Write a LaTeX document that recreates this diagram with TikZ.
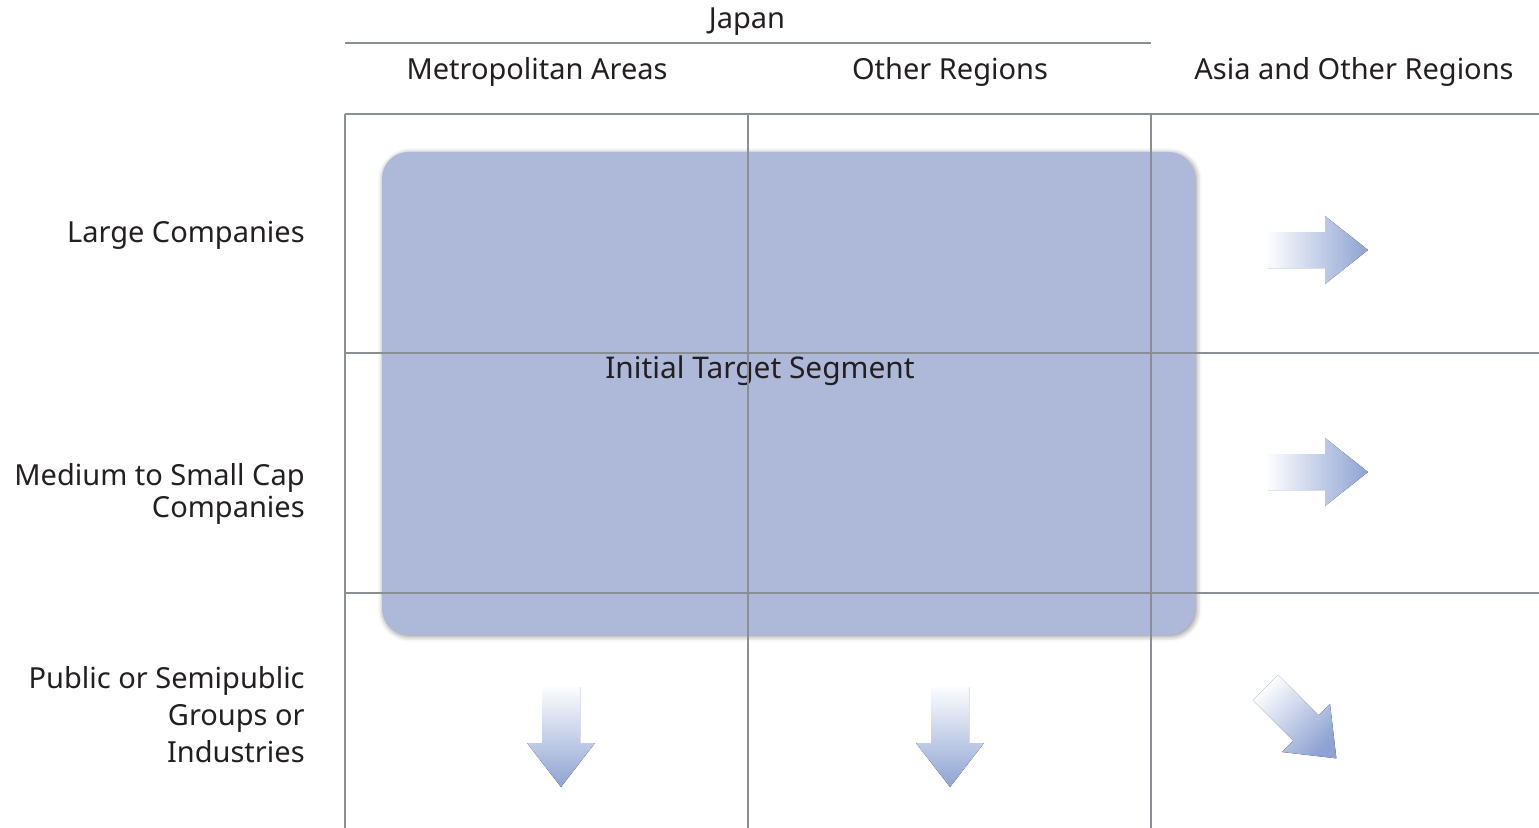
\documentclass[tikz,border=0pt]{standalone}
\usepackage{fontspec}
\setmainfont{Noto Sans}
\usetikzlibrary{shadows.blur}
\definecolor{gridgray}{HTML}{8A8F96}
\definecolor{segblue}{HTML}{AEB9DA}
\definecolor{arrowblue}{HTML}{8EA3D3}
\definecolor{textdark}{HTML}{231F20}
\tikzset{
  gridline/.style={gridgray, line width=0.6pt},
  label/.style={text=textdark, font=\fontsize{16.5}{18.5}\selectfont, inner sep=0pt},
  rowlabel/.style={label, anchor=east, align=right},
  arrowfill/.style={draw=none, left color=white!97!arrowblue, right color=arrowblue},
  downfill/.style={draw=none, top color=white!97!arrowblue, bottom color=arrowblue}
}
\newcommand{\rightarrowshape}{(-50,-18) -- (7,-18) -- (7,-34) -- (50,0) -- (7,34) -- (7,18) -- (-50,18) -- cycle}
\begin{document}
\begin{tikzpicture}[x=0.02cm, y=-0.02cm]
            \useasboundingbox (0,0) rectangle (1539,828);

            % Segment block
            \fill[segblue, rounded corners=15, blur shadow={shadow xshift=0.8pt, shadow yshift=-0.8pt, shadow blur radius=3pt, shadow opacity=45}] (382,152) rectangle (1195,635);
            \node[label, font=\fontsize{17}{19}\selectfont] (segment) at (760,371) {Initial Target Segment};

            % Grid
            \draw[gridline] (345,43) -- (1151,43);
            \draw[gridline] (345,114) -- (1539,114);
            \draw[gridline] (345,353) -- (1539,353);
            \draw[gridline] (345,593) -- (1539,593);
            \foreach \x in {345,748,1151}
                \draw[gridline] (\x,114) -- (\x,828);

            % Column heads
            \node[label] (japan) at (747,22) {Japan};
            \node[label] (metro) at (537,72) {Metropolitan Areas};
            \node[label] (other) at (950,72) {Other Regions};
            \node[label] (asia) at (1354,72) {Asia and Other Regions};

            % Row heads
            \node[rowlabel] (large) at (305,235) {Large Companies};
            \node[rowlabel] (medium) at (305,494) {Medium to Small Cap\\Companies};
            \node[rowlabel, font=\fontsize{16.5}{21}\selectfont] (public) at (305,715) {Public or Semipublic\\Groups or\\Industries};

            % Arrows
            \foreach \y in {250,472}
                \fill[arrowfill, shift={(1318,\y)}] \rightarrowshape;
            \foreach \x in {561,950}
                \fill[downfill] (\x-19,687) -- (\x+19,687) -- (\x+19,743) -- (\x+34,743) -- (\x,787) -- (\x-34,743) -- (\x-19,743) -- cycle;
            \fill[draw=none, top color=white!97!arrowblue, bottom color=arrowblue, shading angle=45, shift={(1301,723)}, rotate=-45] \rightarrowshape;
        \end{tikzpicture}
\end{document}
